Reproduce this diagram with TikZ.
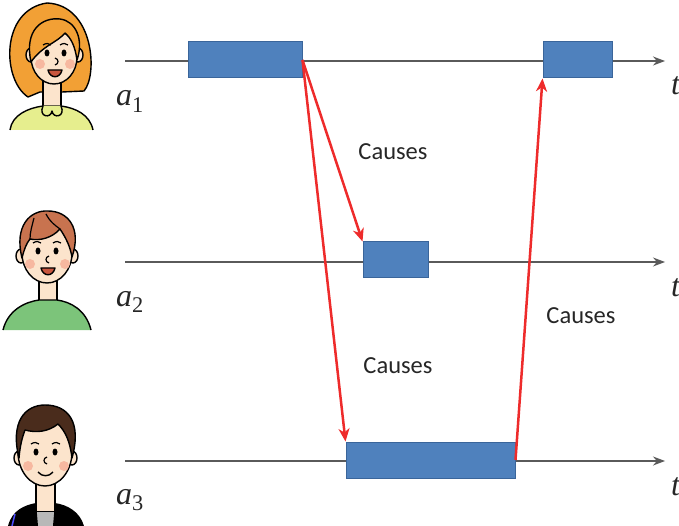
\documentclass[tikz,border=0pt]{standalone}
\usepackage{fontspec}
\usetikzlibrary{arrows.meta}
\newfontfamily\calibri{Carlito}
\newfontfamily\timesf{Liberation Serif}
\definecolor{cizgiGri}{HTML}{5A5A5A}
\definecolor{kutuMavi}{HTML}{4F81BD}
\definecolor{kutuKenar}{HTML}{3A659A}
\definecolor{okKirmizi}{HTML}{EE2B2B}
\definecolor{ten}{HTML}{FCE4CC}
\definecolor{yanak}{HTML}{F7B8A0}
\definecolor{agiz}{HTML}{C9563E}
\definecolor{turuncuSac}{HTML}{F2A035}
\definecolor{kahveSac}{HTML}{C8734F}
\definecolor{koyuSac}{HTML}{4A2C1C}
\definecolor{sariGomlek}{HTML}{E6EE8E}
\definecolor{yesilGomlek}{HTML}{7CC47A}
\definecolor{griTisort}{HTML}{B8B8B8}

\tikzset{
  zaman/.style={draw=cizgiGri,line width=1.3pt,-{Stealth[length=12pt,width=9pt]}},
  olay/.style={draw=kutuKenar,fill=kutuMavi,line width=1pt,inner sep=0pt,minimum height=36pt},
  neden/.style={draw=okKirmizi,line width=2.5pt,-{Stealth[length=13pt,width=11pt,inset=4pt]}},
  etiket/.style={font=\calibri\fontsize{24.5}{28}\selectfont,text=black!85},
  ajan/.style={font=\timesf\itshape\fontsize{32}{34}\selectfont,inner sep=0pt,text=black!85},
  kontur/.style={draw=black,line width=1.4pt,line join=round},
}

\begin{document}
\begin{tikzpicture}[x=1pt,y=-1pt]
\useasboundingbox (0,0) rectangle (679,526);

% zaman eksenleri
\foreach \i/\y in {1/61,2/262,3/461}{
  \coordinate (b\i) at (125,\y);
  \coordinate (s\i) at (665,\y);
  \draw[zaman] (b\i) -- (s\i);
  \node[ajan,anchor=base west] (t\i) at (671,\y+34) {t};
}
\node[ajan,anchor=base west] (a1) at (116,106) {a\textsubscript{\upshape 1}};
\node[ajan,anchor=base west] (a2) at (116,306) {a\textsubscript{\upshape 2}};
\node[ajan,anchor=base west] (a3) at (116,504) {a\textsubscript{\upshape 3}};

% olaylar
\node[olay,minimum width=114pt] (e1) at (245,60) {};
\node[olay,minimum width=69pt] (e2) at (577.5,60) {};
\node[olay,minimum width=65pt] (e3) at (395.5,260) {};
\node[olay,minimum width=169pt] (e4) at (430.5,460) {};

% nedensellik oklari
\draw[neden] (e1.east) -- (e3.north west);
\draw[neden] (e1.east) -- (e4.north west);
\draw[neden] (e4.east) -- (e2.south west);
\node[etiket] (c1) at (393,152) {Causes};
\node[etiket] (c2) at (398,366) {Causes};
\node[etiket] (c3) at (581,316) {Causes};

% a1: turuncu sacli kadin
\draw[kontur,fill=turuncuSac] (28,97) .. controls (2,80) and (0,10) .. (47,3)
  .. controls (94,5) and (98,75) .. (84,91) -- (62,92) -- (40,92) -- cycle;
\draw[kontur,fill=ten] (43,75) -- (43,108) -- (61,108) -- (61,75);
\fill[sariGomlek] (10,130) .. controls (12,115) and (28,108) .. (43,106) -- (61,106)
  .. controls (76,108) and (90,115) .. (93,130) -- cycle;
\draw[kontur] (10,130) .. controls (12,115) and (28,108) .. (43,106) -- (61,106)
  .. controls (76,108) and (90,115) .. (93,130);
\draw[kontur,fill=sariGomlek] (43,106) .. controls (38,117) and (51,119) .. (52,111)
  .. controls (53,119) and (66,117) .. (61,106);
\draw[kontur,fill=ten] (31,55) ellipse[x radius=5pt,y radius=7pt];
\draw[kontur,fill=ten] (78,55) ellipse[x radius=5pt,y radius=7pt];
\draw[kontur,fill=ten] (54,57) ellipse[x radius=23pt,y radius=27pt];
\draw[kontur,fill=turuncuSac] (31,62) .. controls (24,30) and (42,17) .. (60,19)
  .. controls (76,21) and (84,40) .. (77,60) .. controls (75,46) and (71,38) .. (65,33)
  .. controls (58,42) and (42,46) .. (31,62) -- cycle;
\fill[yanak] (40,64) circle[radius=5pt];
\fill[yanak] (70,64) circle[radius=5pt];
\fill (47,53) ellipse[x radius=2.5pt,y radius=3.5pt];
\fill (64,53) ellipse[x radius=2.5pt,y radius=3.5pt];
\draw[line width=1.2pt] (43,45) .. controls (46,43) and (49,43) .. (51,45);
\draw[line width=1.2pt] (60,45) .. controls (63,43) and (66,43) .. (68,45);
\draw[line width=1.2pt] (55,58) .. controls (59,59) and (59,64) .. (55,65);
\draw[kontur,fill=agiz] (48,70) .. controls (50,79) and (60,79) .. (62,70) -- cycle;

% a2: kahverengi sacli cocuk
\draw[kontur,fill=ten] (39,280) -- (39,305) -- (57,305) -- (57,280);
\fill[yesilGomlek] (3,330) .. controls (8,310) and (25,302) .. (39,300) -- (57,300)
  .. controls (71,302) and (86,310) .. (91,330) -- cycle;
\draw[kontur] (3,330) .. controls (8,310) and (25,302) .. (39,300) -- (57,300)
  .. controls (71,302) and (86,310) .. (91,330);
\draw[kontur,fill=ten] (21,256) ellipse[x radius=5pt,y radius=7pt];
\draw[kontur,fill=ten] (73,256) ellipse[x radius=5pt,y radius=7pt];
\draw[kontur,fill=ten] (47,253) ellipse[x radius=25pt,y radius=30pt];
\draw[kontur,fill=kahveSac] (22,258) .. controls (14,226) and (30,210) .. (48,211)
  .. controls (68,211) and (82,228) .. (72,257) .. controls (70,246) and (66,238) .. (60,229)
  .. controls (52,238) and (40,241) .. (30,239) .. controls (26,244) and (24,250) .. (22,258) -- cycle;
\draw[line width=1.2pt] (46,214) .. controls (50,222) and (56,226) .. (60,229);
\draw[line width=1.2pt] (34,218) .. controls (32,226) and (30,232) .. (30,239);
\fill[yanak] (30,264) circle[radius=5pt];
\fill[yanak] (65,264) circle[radius=5pt];
\fill (38,251) ellipse[x radius=2.5pt,y radius=3.5pt];
\fill (56,251) ellipse[x radius=2.5pt,y radius=3.5pt];
\draw[line width=1.2pt] (33,243) .. controls (36,241) and (39,241) .. (41,243);
\draw[line width=1.2pt] (53,243) .. controls (56,241) and (59,241) .. (61,243);
\draw[line width=1.2pt] (49,256) .. controls (45,257) and (45,262) .. (49,263);
\draw[kontur,fill=agiz] (41,268) .. controls (43,277) and (53,277) .. (55,268) -- cycle;

% a3: koyu sacli genc
\draw[kontur,fill=ten] (36,482) -- (36,512) -- (55,512) -- (55,482);
\fill[griTisort] (34,512) rectangle (57,526);
\fill[black] (8,526) .. controls (12,510) and (25,505) .. (36,503) -- (38,526) -- cycle;
\fill[black] (55,503) .. controls (68,505) and (80,512) .. (84,526) -- (53,526) -- cycle;
\draw[blue!70,line width=1.5pt] (15,514) -- (12,526);
\draw[kontur,fill=ten] (19,458) ellipse[x radius=5pt,y radius=7pt];
\draw[kontur,fill=ten] (72,458) ellipse[x radius=5pt,y radius=7pt];
\draw[kontur,fill=ten] (45,452) ellipse[x radius=27pt,y radius=34pt];
\draw[kontur,fill=koyuSac] (19,458) .. controls (10,422) and (25,405) .. (45,405)
  .. controls (68,405) and (82,422) .. (72,458) .. controls (70,442) and (66,432) .. (58,424)
  .. controls (48,432) and (36,433) .. (25,430) .. controls (22,438) and (20,446) .. (19,458) -- cycle;
\fill[yanak] (28,466) circle[radius=5pt];
\fill[yanak] (64,466) circle[radius=5pt];
\fill (36,452) ellipse[x radius=2.5pt,y radius=3.5pt];
\fill (55,452) ellipse[x radius=2.5pt,y radius=3.5pt];
\draw[line width=1.2pt] (31,444) .. controls (34,442) and (37,442) .. (39,444);
\draw[line width=1.2pt] (52,444) .. controls (55,442) and (58,442) .. (60,444);
\draw[line width=1.2pt] (47,457) .. controls (43,458) and (43,463) .. (47,464);
\draw[line width=1.4pt] (38,472) .. controls (42,477) and (49,477) .. (53,472);
\end{tikzpicture}
\end{document}
